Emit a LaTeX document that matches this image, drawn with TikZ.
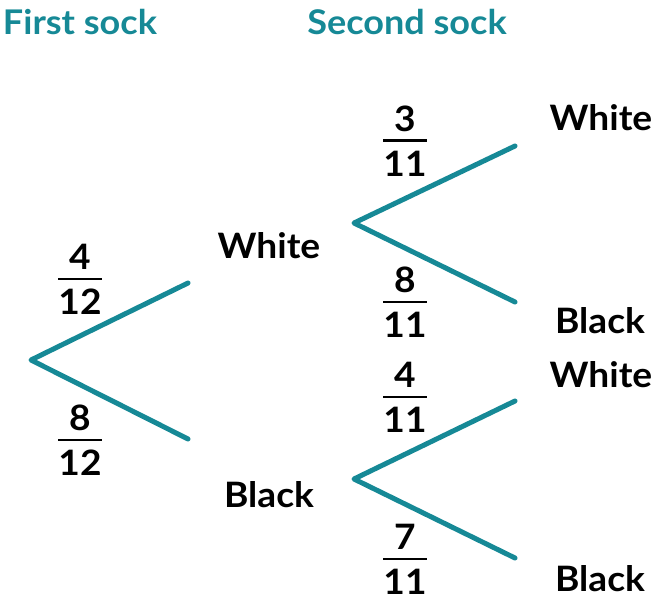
\documentclass[tikz,border=0pt]{standalone}
\usepackage{fontspec}
\setmainfont{Lato}[FakeStretch=1.06]
\definecolor{teal1}{RGB}{22,137,150}
\tikzset{
  branch/.style={draw=teal1,line width=5pt,line cap=round,line join=round},
  lbl/.style={inner sep=0pt,font=\fontsize{35}{40}\selectfont\bfseries,text=black},
  head/.style={inner sep=0pt,font=\fontsize{34}{40}\selectfont\bfseries,text=teal1},
  fracbar/.style={draw=black,line width=2.8pt}
}
\newcommand\myfrac[5]{% name, x, bar y, num, den
  \node[lbl] (#1n) at (#2,#3-22) {#4};
  \node[lbl] (#1d) at (#2,#3+23) {#5};
  \draw[fracbar] (#2-22,#3) -- (#2+22,#3);
}
\begin{document}
\begin{tikzpicture}[x=1pt,y=-1pt]
\useasboundingbox (0,0) rectangle (654,606);
% headings
\node[head] (h1) at (80,22) {First sock};
\node[head] (h2) at (407,22) {Second sock};
% tree points
\coordinate (r) at (31,360);
\coordinate (a) at (188,283);
\coordinate (b) at (188,439);
\coordinate (r1) at (354,223);
\coordinate (a1) at (515,146);
\coordinate (b1) at (515,302);
\coordinate (r2) at (354,479);
\coordinate (a2) at (515,401);
\coordinate (b2) at (515,558);
\draw[branch] (a) -- (r) -- (b);
\draw[branch] (a1) -- (r1) -- (b1);
\draw[branch] (a2) -- (r2) -- (b2);
% outcome labels
\node[lbl] (w) at (269,245.5) {White};
\node[lbl] (k) at (269,494.5) {Black};
\node[lbl] (ww) at (601,117.5) {White};
\node[lbl] (wk) at (600,320.5) {Black};
\node[lbl] (kw) at (601,374.5) {White};
\node[lbl] (kk) at (600,578.5) {Black};
% probabilities
\myfrac{f1}{80}{279}{4}{12}
\myfrac{f2}{80}{440}{8}{12}
\myfrac{f3}{405}{140.5}{3}{11}
\myfrac{f4}{405}{302}{8}{11}
\myfrac{f5}{405}{397}{4}{11}
\myfrac{f6}{405}{559}{7}{11}
\end{tikzpicture}
\end{document}
